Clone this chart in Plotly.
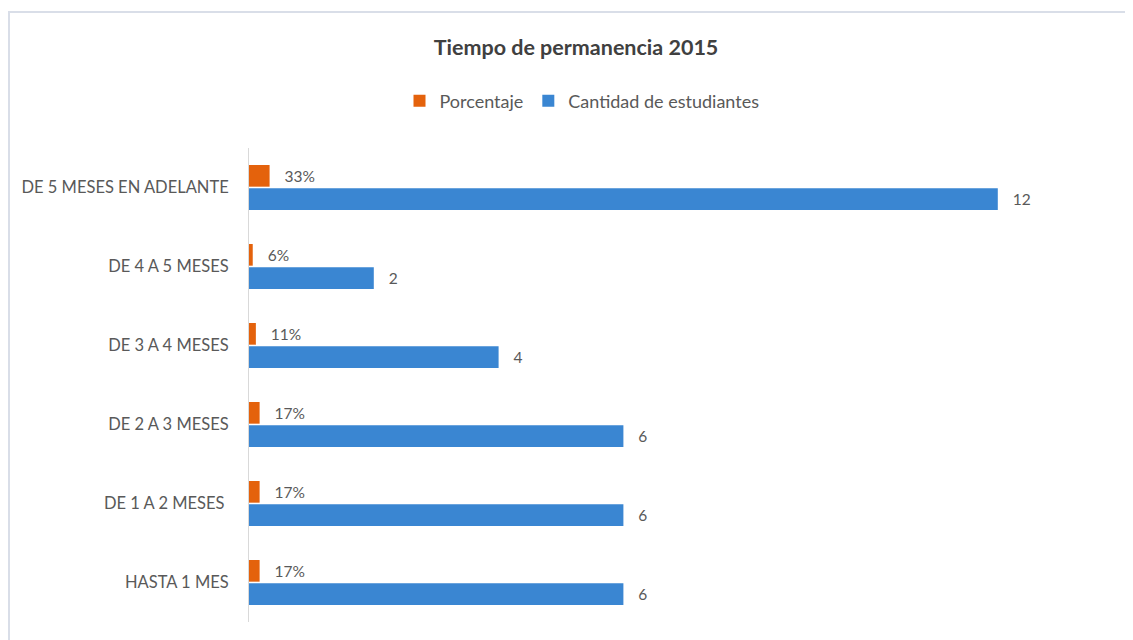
import plotly.graph_objects as go

categories = ["HASTA 1 MES", "DE 1 A 2 MESES\u00a0", "DE 2 A 3 MESES", "DE 3 A 4 MESES",
              "DE 4 A 5 MESES", "DE 5 MESES EN ADELANTE"]
cantidad = [6, 6, 6, 4, 2, 12]
porcentaje = [0.17, 0.17, 0.17, 0.11, 0.06, 0.33]

FONT = "Lato"
GREY = "#595959"
OFF = 8  # page offset compensation

fig = go.Figure()
fig.add_trace(go.Bar(
    y=categories, x=cantidad, orientation="h", name="Cantidad de estudiantes",
    marker=dict(color="#3A86D2", line=dict(width=0)),
    texttemplate="   %{x}", textposition="outside", cliponaxis=False,
    textfont=dict(family=FONT, size=15.5, color=GREY),
))
fig.add_trace(go.Bar(
    y=categories, x=porcentaje, orientation="h", name="Porcentaje",
    marker=dict(color="#E4620C", line=dict(width=0)),
    texttemplate="   %{x:.0%}", textposition="outside", cliponaxis=False,
    textfont=dict(family=FONT, size=15.5, color=GREY),
))

W, H = 1133, 640
L, R, T, B = 249 - OFF, 23 + OFF, 148 - OFF, 18 + OFF
pw, ph = W - L - R, H - T - B


def px_to_paper_x(px):
    return (px - OFF - L) / pw


def px_to_paper_y(py):
    return (H - B - (py - OFF)) / ph


fig.update_layout(
    width=W, height=H,
    margin=dict(l=L, r=R, t=T, b=B),
    paper_bgcolor="white", plot_bgcolor="white",
    barmode="group", bargap=0.41, bargroupgap=0.07,
    title=dict(text="<b>Tiempo de permanencia 2015</b>", x=(576 - OFF) / W, xanchor="center",
               y=1 - (47 - OFF) / H, yanchor="middle",
               font=dict(family=FONT, size=21.5, color="#404040")),
    legend=dict(orientation="h", traceorder="reversed",
                x=px_to_paper_x(582), xanchor="center", y=px_to_paper_y(101), yanchor="middle",
                font=dict(family=FONT, size=18, color=GREY),
                itemwidth=30, itemsizing="constant"),
    xaxis=dict(range=[0, pw / 62.4], visible=False, showgrid=False, zeroline=False),
    yaxis=dict(showline=True, linecolor="#D9D9D9", linewidth=1, showgrid=False,
               ticks="", ticklabelstandoff=16,
               tickfont=dict(family=FONT, size=16.5, color=GREY)),
    font=dict(family=FONT, color=GREY),
    shapes=[dict(type="rect", xref="paper", yref="paper",
                 x0=px_to_paper_x(9), x1=px_to_paper_x(W + 30),
                 y0=px_to_paper_y(H + 30), y1=px_to_paper_y(12),
                 line=dict(color="#D9DEE8", width=2), layer="below")],
)

fig.write_html("out.html")
